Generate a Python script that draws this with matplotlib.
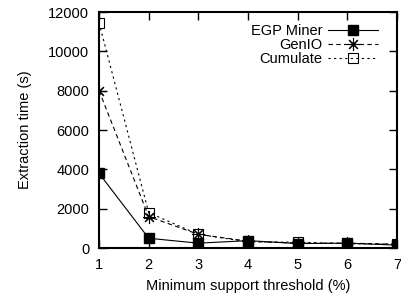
import matplotlib
matplotlib.use('Agg')
import matplotlib.pyplot as plt

# minimum support threshold (%)
support = [1, 2, 3, 4, 5, 6, 7]

# extraction time (s)
egp_miner = [3800, 500, 250, 380, 230, 250, 150]
genio = [8000, 1600, 700, 350, 250, 250, 200]
cumulate = [11450, 1800, 700, 320, 300, 220, 200]

y_ticks = [0, 2000, 4000, 6000, 8000, 10000, 12000]

plt.rcParams['font.family'] = ['Liberation Sans', 'DejaVu Sans']
plt.rcParams['font.size'] = 10.5

fig = plt.figure(figsize=(4.01, 3.0), dpi=100)
ax = fig.add_axes([0.247, 0.173, 0.743, 0.787])

ax.plot(support, egp_miner, color='black', linestyle='-', linewidth=0.8,
        marker='s', markersize=7, markerfacecolor='black', label='EGP Miner')
ax.plot(support, genio, color='black', linestyle=(0, (4, 3)), linewidth=0.8,
        marker=(8, 2, 0), markersize=9, markeredgewidth=0.8, label='GenIO')
ax.plot(support, cumulate, color='black', linestyle=(0, (2, 3)), linewidth=0.8,
        marker='s', markersize=7, markerfacecolor='none', markeredgewidth=0.8,
        label='Cumulate')

ax.set_xlim(1, 7)
ax.set_ylim(0, 12000)
ax.set_xticks(support)
ax.set_yticks(y_ticks)
ax.tick_params(direction='in', length=6, width=1, top=True, right=True, pad=7)
for sp in ax.spines.values():
    sp.set_linewidth(1.5)

ax.set_xlabel('Minimum support threshold (%)', labelpad=5)
ax.set_ylabel('Extraction time (s)', labelpad=12)

ax.legend(loc='upper right', frameon=False, markerfirst=False,
          handlelength=3.4, labelspacing=0.0, borderaxespad=0.0,
          handletextpad=0.4, bbox_to_anchor=(0.955, 0.975))

fig.savefig('out.png', dpi=100)
